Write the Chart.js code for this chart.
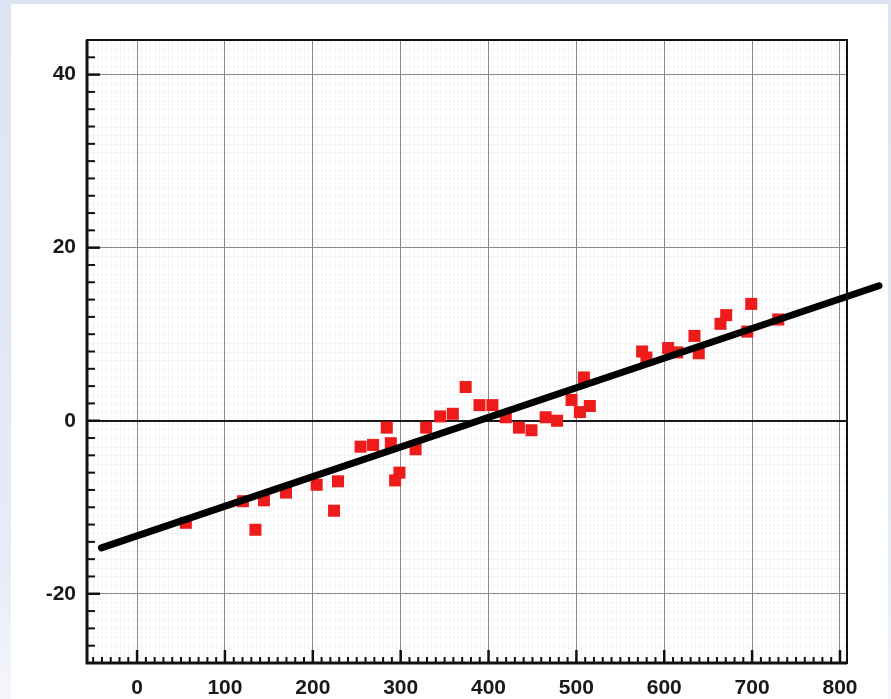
<!DOCTYPE html>
<html>
<head>
<meta charset="utf-8">
<script src="https://cdn.jsdelivr.net/npm/chart.js@4.4.1/dist/chart.umd.min.js"></script>
<style>
  html, body { margin: 0; padding: 0; }
  body {
    width: 891px; height: 699px; overflow: hidden;
    background: linear-gradient(to bottom, #dde4f1 0%, #e6ebf5 80%, #f4f6fb 100%);
    position: relative;
  }
  #panel {
    position: absolute; left: 11px; top: 4px; width: 877px; height: 695px;
    background: #ffffff;
  }
  #wrap { position: absolute; left: 0; top: 0; width: 891px; height: 699px; }
</style>
</head>
<body>
<div id="panel"></div>
<div id="wrap"><canvas id="chart" width="891" height="699"></canvas></div>
<script>
// axis ranges and tick labels
const xMin = -57, xMax = 808;
const yMin = -28, yMax = 44;
const xTicks = [0, 100, 200, 300, 400, 500, 600, 700, 800];
const yTicks = [-20, 0, 20, 40];

// measured points (x, y)
const pointsX = [55.5, 120.5, 134.7, 144.4, 169.5, 204.4, 228.7, 224.2, 254.4, 268.6,
                 284.2, 288.8, 298.6, 293.7, 317, 329, 345, 359.4, 374, 389.7,
                 404.4, 419.6, 434.6, 448.9, 465, 478, 494.5, 508.5, 504, 515.3,
                 574.8, 579.7, 604.4, 614.7, 634.4, 639.3, 664, 670.5, 699, 694.5, 729.8];
const pointsY = [-11.8, -9.3, -12.6, -9.2, -8.3, -7.4, -7.0, -10.4, -3.0, -2.8,
                 -0.8, -2.6, -6.0, -6.9, -3.3, -0.8, 0.5, 0.8, 3.9, 1.8,
                 1.8, 0.4, -0.8, -1.1, 0.4, 0.0, 2.4, 5.0, 1.0, 1.7,
                 8.0, 7.3, 8.4, 7.9, 9.8, 7.8, 11.2, 12.2, 13.5, 10.3, 11.7];

// fitted line end points
const fitX = [-40.6, 844.4];
const fitY = [-14.7, 15.6];

const scatterData = pointsX.map((x, i) => ({ x: x, y: pointsY[i] }));
const fitData = fitX.map((x, i) => ({ x: x, y: fitY[i] }));

// minor grid + inward tick marks + frame
const frame = {
  id: 'frame',
  beforeDatasetsDraw(chart) {
    const ctx = chart.ctx, a = chart.chartArea;
    const xs = chart.scales.x, ys = chart.scales.y;
    ctx.save();
    ctx.strokeStyle = 'rgba(0,0,0,0.035)';
    ctx.lineWidth = 1;
    ctx.beginPath();
    for (let v = -55; v <= xMax; v += 5) {
      if (v % 100 === 0) continue;
      const px = Math.round(xs.getPixelForValue(v)) + 0.5;
      ctx.moveTo(px, a.top); ctx.lineTo(px, a.bottom);
    }
    for (let v = -28; v <= yMax; v += 1) {
      if (v % 20 === 0) continue;
      const py = Math.round(ys.getPixelForValue(v)) + 0.5;
      ctx.moveTo(a.left, py); ctx.lineTo(a.right, py);
    }
    ctx.stroke();
    ctx.restore();
  },
  afterDraw(chart) {
    const ctx = chart.ctx, a = chart.chartArea;
    const xs = chart.scales.x, ys = chart.scales.y;
    ctx.save();
    ctx.strokeStyle = '#111';
    // y ticks (inward, from left axis)
    for (let v = -28; v <= yMax; v += 2) {
      const py = ys.getPixelForValue(v);
      const major = v % 20 === 0;
      ctx.lineWidth = major ? 2.5 : 2;
      ctx.beginPath();
      ctx.moveTo(a.left, py); ctx.lineTo(a.left + (major ? 13 : 8), py);
      ctx.stroke();
    }
    // x ticks (inward, from bottom axis)
    for (let v = -50; v <= xMax; v += 10) {
      const px = xs.getPixelForValue(v);
      const major = v % 100 === 0;
      ctx.lineWidth = major ? 2.5 : 2;
      ctx.beginPath();
      ctx.moveTo(px, a.bottom); ctx.lineTo(px, a.bottom - (major ? 13 : 6));
      ctx.stroke();
    }
    // frame
    ctx.lineWidth = 2;
    ctx.strokeRect(a.left, a.top, a.right - a.left, a.bottom - a.top);
    ctx.lineWidth = 3;
    ctx.beginPath();
    ctx.moveTo(a.left, a.top); ctx.lineTo(a.left, a.bottom); ctx.lineTo(a.right, a.bottom);
    ctx.stroke();
    ctx.restore();
  }
};

new Chart(document.getElementById('chart'), {
  type: 'scatter',
  data: {
    datasets: [
      {
        data: fitData,
        showLine: true,
        borderColor: '#000',
        borderWidth: 7,
        borderCapStyle: 'round',
        pointRadius: 0,
        clip: false,
        order: 0
      },
      {
        data: scatterData,
        pointStyle: 'rect',
        pointRadius: 8.5,
        pointHoverRadius: 8.5,
        backgroundColor: '#ee1b1b',
        borderWidth: 0,
        order: 1
      }
    ]
  },
  plugins: [frame],
  options: {
    responsive: false,
    animation: false,
    layout: { padding: { left: 0, top: 40, right: 44, bottom: 0 } },
    plugins: { legend: { display: false }, tooltip: { enabled: false } },
    scales: {
      x: {
        type: 'linear', min: xMin, max: xMax,
        afterBuildTicks: s => { s.ticks = xTicks.map(v => ({ value: v })); },
        afterFit: s => { s.height = 36; },
        border: { display: false },
        grid: { drawTicks: false, color: '#8a8a8a', lineWidth: 1 },
        ticks: { padding: 13, color: '#1a1a1a', font: { family: 'Liberation Sans', size: 21, weight: 'bold' } }
      },
      y: {
        type: 'linear', min: yMin, max: yMax,
        afterBuildTicks: s => { s.ticks = yTicks.map(v => ({ value: v })); },
        afterFit: s => { s.width = 87; },
        border: { display: false },
        grid: {
          drawTicks: false,
          color: c => (c.tick && c.tick.value === 0) ? '#1a1a1a' : '#8a8a8a',
          lineWidth: c => (c.tick && c.tick.value === 0) ? 2 : 1
        },
        ticks: { padding: 11, color: '#1a1a1a', font: { family: 'Liberation Sans', size: 21, weight: 'bold' } }
      }
    }
  }
});
</script>
</body>
</html>
